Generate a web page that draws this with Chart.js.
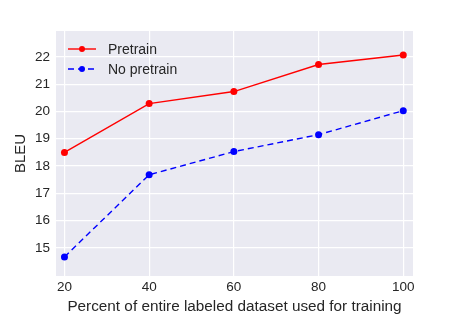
<!DOCTYPE html>
<html>
<head>
<meta charset="utf-8">
<script src="https://cdn.jsdelivr.net/npm/chart.js@4/dist/chart.umd.min.js"></script>
<style>
    html, body { margin: 0; padding: 0; background: #fff; }
    #wrap { width: 459px; height: 314px; }
</style>
</head>
<body>
<div id="wrap"><canvas id="chart" width="459" height="314"></canvas></div>
<script>
const percents = [20, 40, 60, 80, 100];
const pretrain = [18.5, 20.29, 20.73, 21.72, 22.07];
const noPretrain = [14.67, 17.68, 18.53, 19.15, 20.03];
const xTicks = [20, 40, 60, 80, 100];
const yTicks = [15, 16, 17, 18, 19, 20, 21, 22];

const textColor = '#262626';
const fontFamily = '"Liberation Sans", Arial, sans-serif';

// seaborn-like background behind the plot area
const plotBackground = {
    id: 'plotBackground',
    beforeDraw(chart) {
        const { ctx, chartArea: a } = chart;
        ctx.save();
        ctx.fillStyle = '#EAEAF2';
        ctx.fillRect(a.left, a.top, a.right - a.left, a.bottom - a.top);
        ctx.restore();
    }
};

// legend drawn inside the plot, top left
const innerLegend = {
    id: 'innerLegend',
    afterDraw(chart) {
        const { ctx, chartArea: a } = chart;
        ctx.save();
        ctx.font = '14px ' + fontFamily;
        ctx.textBaseline = 'middle';
        chart.data.datasets.forEach((ds, i) => {
            const y = a.top + 18 + i * 20;
            const x0 = a.left + 12;
            const x1 = x0 + 28;
            ctx.strokeStyle = ds.borderColor;
            ctx.lineWidth = ds.borderWidth;
            ctx.setLineDash(ds.borderDash || []);
            ctx.beginPath();
            ctx.moveTo(x0, y);
            ctx.lineTo(x1, y);
            ctx.stroke();
            ctx.setLineDash([]);
            ctx.fillStyle = ds.pointBackgroundColor;
            ctx.beginPath();
            ctx.arc((x0 + x1) / 2, y, 3, 0, Math.PI * 2);
            ctx.fill();
            ctx.fillStyle = textColor;
            ctx.fillText(ds.label, x1 + 12, y + 1);
        });
        ctx.restore();
    }
};

new Chart(document.getElementById('chart'), {
    type: 'line',
    data: {
        datasets: [{
            label: 'Pretrain',
            data: percents.map((p, i) => ({ x: p, y: pretrain[i] })),
            borderColor: '#FF0000',
            backgroundColor: '#FF0000',
            pointBackgroundColor: '#FF0000',
            pointBorderWidth: 0,
            pointRadius: 3.5,
            borderWidth: 1.4
        }, {
            label: 'No pretrain',
            data: percents.map((p, i) => ({ x: p, y: noPretrain[i] })),
            borderColor: '#0000FF',
            backgroundColor: '#0000FF',
            pointBackgroundColor: '#0000FF',
            pointBorderWidth: 0,
            pointRadius: 3.5,
            borderWidth: 1.4,
            borderDash: [6, 4]
        }]
    },
    options: {
        responsive: false,
        animation: false,
        layout: { padding: { top: 31, right: 46, left: 0, bottom: 0 } },
        plugins: {
            legend: { display: false },
            tooltip: { enabled: false }
        },
        scales: {
            x: {
                type: 'linear',
                min: 18,
                max: 102.3,
                afterBuildTicks: scale => { scale.ticks = xTicks.map(v => ({ value: v })); },
                afterFit: scale => { scale.height = 38; },
                grid: { color: '#FFFFFF', lineWidth: 1.2, drawTicks: false },
                border: { display: false },
                ticks: { color: textColor, font: { family: fontFamily, size: 13.5 }, padding: 3, maxRotation: 0 },
                title: {
                    display: true,
                    text: 'Percent of entire labeled dataset used for training',
                    color: textColor,
                    font: { family: fontFamily, size: 15.3 },
                    padding: { top: 0, bottom: -2 }
                }
            },
            y: {
                min: 13.97,
                max: 22.95,
                afterBuildTicks: scale => { scale.ticks = yTicks.map(v => ({ value: v })); },
                afterFit: scale => { scale.width = 56; },
                grid: { color: '#FFFFFF', lineWidth: 1.2, drawTicks: false },
                border: { display: false },
                ticks: { color: textColor, font: { family: fontFamily, size: 13.5 }, padding: 6 },
                title: {
                    display: true,
                    text: 'BLEU',
                    color: textColor,
                    font: { family: fontFamily, size: 15 },
                    padding: { top: 12, bottom: 0 }
                }
            }
        }
    },
    plugins: [plotBackground, innerLegend]
});
</script>
</body>
</html>
